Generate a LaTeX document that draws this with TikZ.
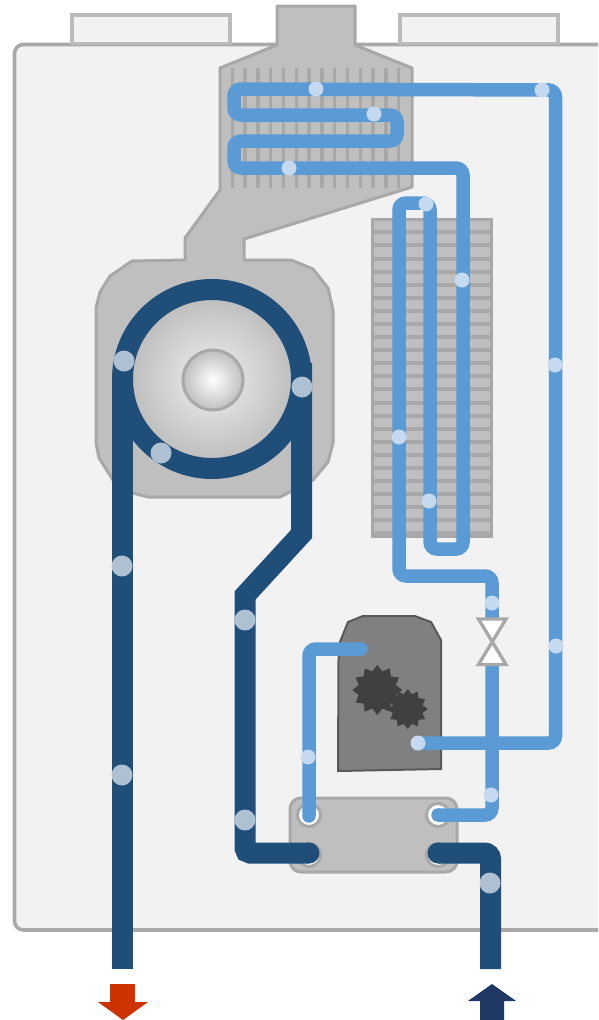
\documentclass[tikz,border=0pt]{standalone}
\usetikzlibrary{shapes.geometric}
\definecolor{panelfill} {HTML}{F2F2F2}
\definecolor{panelline} {HTML}{A9A9A9}
\definecolor{tabline}   {HTML}{BBBBBB}
\definecolor{flue}      {HTML}{BFBFBF}
\definecolor{flueline}  {HTML}{A8A8A8}
\definecolor{coldpipe}  {HTML}{5B9BD5}
\definecolor{colddot}   {HTML}{C5DAF0}
\definecolor{hotpipe}   {HTML}{1F4E79}
\definecolor{hotdot}    {HTML}{AEC1D2}
\definecolor{gasbox}    {HTML}{808080}
\definecolor{gasline}   {HTML}{595959}
\definecolor{gear}      {HTML}{404040}
\definecolor{outred}    {HTML}{CC3300}
\definecolor{innavy}    {HTML}{1F3864}

\begin{document}
\begin{tikzpicture}[
  x=1pt, y=-1pt,
  panel/.style ={draw=panelline,line width=3.6pt,fill=panelfill,rounded corners=9pt},
  tab/.style   ={draw=tabline,line width=3.3pt,fill=panelfill},
  body/.style  ={draw=flueline,line width=3pt,fill=flue},
  fin/.style   ={draw=flueline,line width=3.5pt},
  cold/.style  ={draw=coldpipe,line width=13.5pt,rounded corners=7pt},
  hot/.style   ={draw=hotpipe,line width=21pt},
  cdot/.style  ={fill=colddot},
  hdot/.style  ={fill=hotdot},
  port/.style  ={draw=flueline,line width=3pt,fill=white},
  gearbig/.style={star,star points=12,star point ratio=1.3,fill=gear,inner sep=0pt,minimum size=50pt},
  gearsmall/.style={gearbig,minimum size=40pt},
]
\clip (0,0) rectangle (598,1020);
\fill[white] (0,0) rectangle (598,1020);
%% Casing and top tabs
\draw[panel] (14.5,44.5) rectangle (640,930);
\draw[tab] (72,15) rectangle (230,43.5);
\draw[tab] (400,15) rectangle (558,43.5);
%% Flue hood and fan housing
\draw[body,line join=round] (277,6) -- (355,6) -- (355,45) -- (412,68) -- (412,187)
  -- (244,239) -- (244,260) -- (291,260) -- (313,269) -- (328,288) -- (333,310)
  -- (333,443) -- (328,462) -- (313,480) -- (280,497) -- (148,497) -- (133,493)
  -- (113,480) -- (99,458) -- (96,443) -- (96,308) -- (100,292) -- (110,276)
  -- (132,261) -- (185,260) -- (185,238) -- (220,190) -- (220,68) -- (277,45) -- cycle;
%% Burner fins
\foreach \finx in {0,...,13}
  \draw[fin] (232.3+12.8*\finx,68) -- (232.3+12.8*\finx,188);
%% Secondary exchanger
\draw[body] (372.5,219.5) rectangle (491.5,536);
\foreach \liney in {1,...,24}
  \draw[draw=flueline,line width=4pt] (372,219.3+13.09*\liney) -- (492,219.3+13.09*\liney);
%% Fan disc and hub
\shade[inner color=white!88!gray,outer color=flue] (212,379) circle (80);
\shade[inner color=white,outer color=flue] (213,380) circle (30);
\draw[draw=flueline,line width=3pt] (213,380) circle (30);
%% Gas valve
\draw[draw=gasline,line width=2pt,fill=gasbox] (338,771) -- (338.5,660) -- (340,642) -- (348,622)
  -- (363,616) -- (415,616) -- (431,622) -- (441,640) -- (441,769) -- cycle;
\node[gearbig]   (gearone) at (377.3,690) {};
\node[gearsmall] (geartwo) at (407.7,709) {};
%% Plate exchanger and ports
\draw[body,rounded corners=11pt] (290,798) rectangle (457,872);
\draw[port] (309,815) circle (11.5);
\draw[port] (438,815) circle (11.5);
\draw[port] (309,855) circle (11.5);
\draw[port] (438,855) circle (11.5);
%% Cold circuit
\draw[cold] (418,743) -- (555.5,743) -- (555.5,90) -- (234,89) -- (234,115) -- (397,115)
  -- (397,141) -- (234,141) -- (234,168) -- (463,168) -- (463,549) -- (430,549) -- (430,203)
  -- (399,203) -- (399,576) -- (492,576) -- (492,625);
\draw[cold] (492,660) -- (492,815) -- (438,815);
\fill[coldpipe] (438,815) circle (6.75);
\draw[cold,line cap=round] (361,649) -- (309,649) -- (309,816);
%% Valve
\draw[draw=flueline,line width=3.3pt,fill=white,line join=miter] (478.5,619) -- (506,619)
  -- (478.5,664.5) -- (506,664.5) -- cycle;
%% Hot circuit
\draw[hot] (212,379) circle (89.5);
\draw[hot] (122.5,380) -- (122.5,969);
\draw[hot] (301.5,363) -- (301.5,534) -- (245,595.5) [rounded corners=5pt] -- (245,853) -- (309,853);
\fill[hotpipe] (309,853) circle (10.5);
\draw[hot,rounded corners=6pt] (438,853) -- (490.5,853) -- (490.5,969);
\fill[hotpipe] (438,853) circle (10.5);
%% Flow markers
\foreach \dotx/\doty in {316/89,374/114,542/90,289/168,462/280,426/204,555/365,399/437,
                         429/501,492/603,556/646,418/743,308/757,491/795}
  \fill[cdot] (\dotx,\doty) circle (7.5);
\foreach \dotx/\doty in {124/361,302/387,161/453,122/566,122/775,245/620,245/820,490/883}
  \fill[hdot] (\dotx,\doty) circle (10.5);
%% Outlet and inlet arrows
\fill[outred] (110,984) -- (135,984) -- (135,1002) -- (148,1002) -- (123,1020)
  -- (98,1002) -- (110,1002) -- cycle;
\fill[innavy] (492,984) -- (516,1001) -- (504,1001) -- (504,1020) -- (480,1020)
  -- (480,1001) -- (468,1001) -- cycle;
\end{tikzpicture}
\end{document}
